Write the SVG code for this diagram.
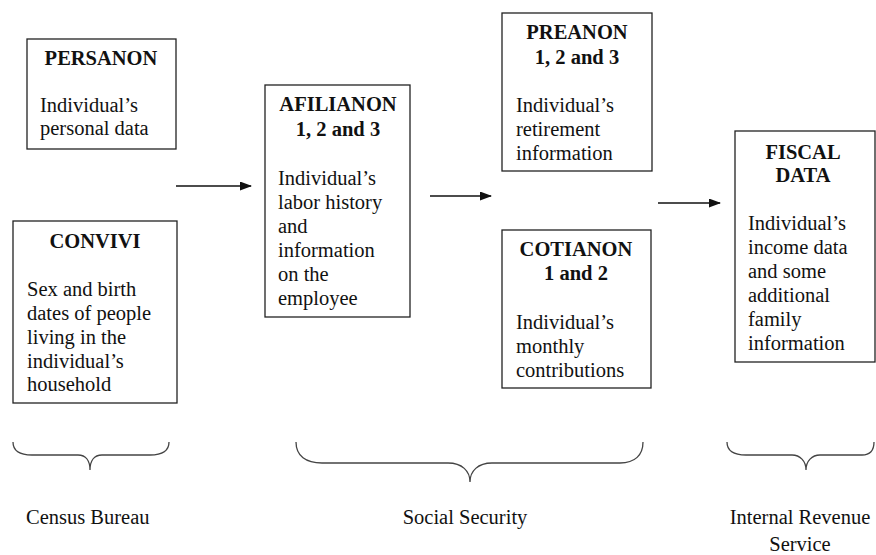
<svg xmlns="http://www.w3.org/2000/svg" width="876" height="555" viewBox="0 0 876 555">
<style>
.box{fill:#fff;stroke:#222;stroke-width:1.3}
text{font-size:20.5px;fill:#111}
.t{font-weight:bold;text-anchor:middle}
.c{text-anchor:middle}
.conn{stroke:#111;stroke-width:1.6;fill:none}
.brace{stroke:#444;stroke-width:1.3;fill:none}
</style>
<defs>
<marker id="ah" markerWidth="12" markerHeight="9" refX="11" refY="4.5" orient="auto" markerUnits="userSpaceOnUse">
<path d="M0,0 L12,4.5 L0,9 Z" fill="#111"/>
</marker>
</defs>
<rect width="876" height="555" fill="#fff"/>
<g font-family="'Liberation Serif', 'DejaVu Serif', serif">
<g id="persanon">
<rect class="box" x="27" y="39" width="149" height="110"/>
<text class="t" x="101" y="65">PERSANON</text>
<text x="40" y="112">Individual’s</text>
<text x="40" y="135">personal data</text>
</g>
<g id="convivi">
<rect class="box" x="13" y="221" width="164" height="182"/>
<text class="t" x="95" y="248">CONVIVI</text>
<text x="27" y="296">Sex and birth</text>
<text x="27" y="320">dates of people</text>
<text x="27" y="344">living in the</text>
<text x="27" y="368">individual’s</text>
<text x="27" y="391">household</text>
</g>
<g id="afilianon">
<rect class="box" x="265" y="85" width="145" height="232"/>
<text class="t" x="338" y="111">AFILIANON</text>
<text class="t" x="338" y="136">1, 2 and 3</text>
<text x="278" y="185">Individual’s</text>
<text x="278" y="209">labor history</text>
<text x="278" y="233">and</text>
<text x="278" y="257">information</text>
<text x="278" y="281">on the</text>
<text x="278" y="305">employee</text>
</g>
<g id="preanon">
<rect class="box" x="502" y="13" width="150" height="158"/>
<text class="t" x="577" y="39">PREANON</text>
<text class="t" x="577" y="64">1, 2 and 3</text>
<text x="516" y="112">Individual’s</text>
<text x="516" y="136">retirement</text>
<text x="516" y="160">information</text>
</g>
<g id="cotianon">
<rect class="box" x="502" y="230" width="149" height="158"/>
<text class="t" x="576" y="256">COTIANON</text>
<text class="t" x="576" y="280">1 and 2</text>
<text x="516" y="329">Individual’s</text>
<text x="516" y="353">monthly</text>
<text x="516" y="377">contributions</text>
</g>
<g id="fiscal">
<rect class="box" x="735" y="131" width="140" height="231"/>
<text class="t" x="803" y="159">FISCAL</text>
<text class="t" x="803" y="182">DATA</text>
<text x="748" y="230">Individual’s</text>
<text x="748" y="254">income data</text>
<text x="748" y="278">and some</text>
<text x="748" y="302">additional</text>
<text x="748" y="326">family</text>
<text x="748" y="350">information</text>
</g>
<g id="labels">
<text x="26" y="524">Census Bureau</text>
<text class="c" x="465" y="524">Social Security</text>
<text class="c" x="800" y="524">Internal Revenue</text>
<text class="c" x="800" y="551">Service</text>
</g>
</g>
<g id="connectors">
<line class="conn" x1="176" y1="186" x2="251" y2="186" marker-end="url(#ah)"/>
<line class="conn" x1="430" y1="196" x2="491" y2="196" marker-end="url(#ah)"/>
<line class="conn" x1="658" y1="203" x2="720" y2="203" marker-end="url(#ah)"/>
</g>
<g id="braces">
<path class="brace" d="M13,442 C13,451 20,455 32,455 L78,455 C86,455 90,461 90,470 C90,461 94,455 102,455 L150,455 C162,455 169,451 169,442"/>
<path class="brace" d="M296,442 C296,456 306,463 322,463 L448,463 C462,463 470,471 470,482 C470,471 478,463 492,463 L620,463 C635,463 643,455 643,442"/>
<path class="brace" d="M727,442 C727,451 733,455 746,455 L792,455 C800,455 806,461 806,470 C806,461 812,455 820,455 L862,455 C870,455 874,451 874,442"/>
</g>
</svg>
